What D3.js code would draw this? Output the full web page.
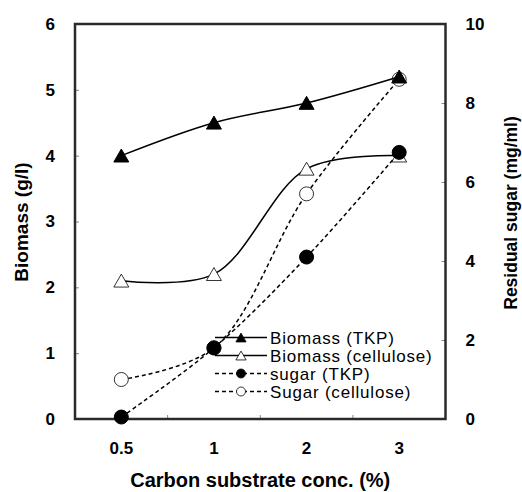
<!DOCTYPE html>
<meta charset="utf-8">
<style>
body { margin: 0; background: #fff; }
svg { font-family: "Liberation Sans", Arial, sans-serif; }
.tick text { font-size: 17px; font-weight: bold; fill: #000; }
.tick line { stroke: #888; }
.title { font-weight: bold; fill: #000; }
.legend text { font-size: 17px; letter-spacing: 0.8px; }
</style>
<body>
<script src="https://cdn.jsdelivr.net/npm/d3@7"></script>
<script>

var width = 522,
    height = 492;

var margin = {top: 24, right: 76.5, bottom: 73, left: 75};

// data
var concs = ["0.5", "1", "2", "3"];
var biomassTKP = [4.0, 4.5, 4.8, 5.2];         // g/l, left axis
var biomassCellulose = [2.1, 2.2, 3.8, 4.0];   // g/l, left axis
var sugarTKP = [0.05, 1.8, 4.1, 6.75];         // mg/ml, right axis
var sugarCellulose = [1.0, 1.8, 5.7, 8.6];     // mg/ml, right axis
var leftTicks = [0, 1, 2, 3, 4, 5, 6];
var rightTicks = [0, 2, 4, 6, 8, 10];
var legendLabels = ["Biomass (TKP)", "Biomass (cellulose)", "sugar (TKP)", "Sugar (cellulose)"];

var svg = d3.select("body").append("svg")
    .attr("width", width)
    .attr("height", height);

var x = d3.scaleBand()
    .domain(concs)
    .range([margin.left, width - margin.right])
    .paddingInner(0);

var yL = d3.scaleLinear().domain([0, 6]).range([height - margin.bottom, margin.top]);
var yR = d3.scaleLinear().domain([0, 10]).range([height - margin.bottom, margin.top]);

function cx(c) { return x(c) + x.bandwidth() / 2; }

// axes
svg.append("g")
    .attr("transform", "translate(" + margin.left + ",0)")
    .call(d3.axisLeft(yL).tickValues(leftTicks).tickFormat(d3.format("d"))
      .tickSizeInner(-4).tickSizeOuter(0).tickPadding(20))
    .call(function(g) { g.select(".domain").remove(); });

svg.append("g")
    .attr("transform", "translate(" + (width - margin.right) + ",0)")
    .call(d3.axisRight(yR).tickValues(rightTicks).tickFormat(d3.format("d"))
      .tickSizeInner(-4).tickSizeOuter(0).tickPadding(20))
    .call(function(g) { g.select(".domain").remove(); });

svg.append("g")
    .attr("transform", "translate(0," + (height - margin.bottom) + ")")
    .call(d3.axisBottom(x).tickSize(0).tickPadding(23))
    .call(function(g) { g.select(".domain").remove(); });

// category boundary ticks
svg.append("g").selectAll("line")
    .data(concs.slice(1))
  .enter().append("line")
    .attr("x1", function(d) { return x(d); })
    .attr("x2", function(d) { return x(d); })
    .attr("y1", height - margin.bottom)
    .attr("y2", height - margin.bottom - 4)
    .attr("stroke", "#888");

// frame
svg.append("rect")
    .attr("x", margin.left)
    .attr("y", margin.top)
    .attr("width", width - margin.left - margin.right)
    .attr("height", height - margin.top - margin.bottom)
    .attr("fill", "none")
    .attr("stroke", "#2a2a2a")
    .attr("stroke-width", 2.5);

// titles
svg.append("text")
    .attr("class", "title")
    .attr("x", (margin.left + width - margin.right) / 2)
    .attr("y", 487)
    .attr("text-anchor", "middle")
    .style("font-size", "20px")
    .text("Carbon substrate conc. (%)");

svg.append("text")
    .attr("class", "title")
    .attr("transform", "translate(27.5,222) rotate(-90)")
    .attr("text-anchor", "middle")
    .style("font-size", "19px")
    .text("Biomass (g/l)");

svg.append("text")
    .attr("class", "title")
    .attr("transform", "translate(516.5,213) rotate(-90)")
    .attr("text-anchor", "middle")
    .style("font-size", "17.5px")
    .text("Residual sugar (mg/ml)");

var series = [
  {name: legendLabels[3], values: sugarCellulose, y: yR, dash: "4,3", marker: "circle", filled: false},
  {name: legendLabels[1], values: biomassCellulose, y: yL, dash: null, marker: "triangle", filled: false},
  {name: legendLabels[2], values: sugarTKP, y: yR, dash: "4,3", marker: "circle", filled: true},
  {name: legendLabels[0], values: biomassTKP, y: yL, dash: null, marker: "triangle", filled: true}
];

function markerPath(type, big) {
  if (type == "triangle") return d3.symbol(d3.symbolTriangle, big ? 97 : 45)();
  return d3.symbol(d3.symbolCircle, big ? Math.PI * 49 : Math.PI * 20)();
}

series.forEach(function(s) {
  var line = d3.line()
      .x(function(d, i) { return cx(concs[i]); })
      .y(function(d) { return s.y(d); })
      .curve(d3.curveCatmullRom.alpha(0.5));

  svg.append("path")
      .datum(s.values)
      .attr("d", line)
      .attr("fill", "none")
      .attr("stroke", "#000")
      .attr("stroke-width", 1.5)
      .attr("stroke-dasharray", s.dash);

  svg.append("g").selectAll("path")
      .data(s.values)
    .enter().append("path")
      .attr("transform", function(d, i) {
        var dy = s.marker == "triangle" ? 2 : 0;
        return "translate(" + cx(concs[i]) + "," + (s.y(d) + dy) + ")";
      })
      .attr("d", markerPath(s.marker, true))
      .attr("fill", s.filled ? "#000" : "#fff")
      .attr("stroke", "#000")
      .attr("stroke-width", s.filled ? 1 : 0.8);
});

// legend
var legendOrder = [series[3], series[1], series[2], series[0]];
var legend = svg.append("g").attr("class", "legend");
var lg = legend.selectAll("g")
    .data(legendOrder)
  .enter().append("g")
    .attr("transform", function(d, i) { return "translate(215," + (337.5 + i * 18) + ")"; });

lg.append("line")
    .attr("x1", 0).attr("x2", 52)
    .attr("stroke", "#000")
    .attr("stroke-width", 1.5)
    .attr("stroke-dasharray", function(d) { return d.dash; });

lg.append("path")
    .attr("transform", function(d) { return "translate(26," + (d.marker == "triangle" ? 1.5 : 0) + ")"; })
    .attr("d", function(d) { return markerPath(d.marker, false); })
    .attr("fill", function(d) { return d.filled ? "#000" : "#fff"; })
    .attr("stroke", "#000")
    .attr("stroke-width", 0.8);

lg.append("text")
    .attr("x", 55)
    .attr("y", 6.5)
    .text(function(d) { return d.name; });

</script>
</body>
